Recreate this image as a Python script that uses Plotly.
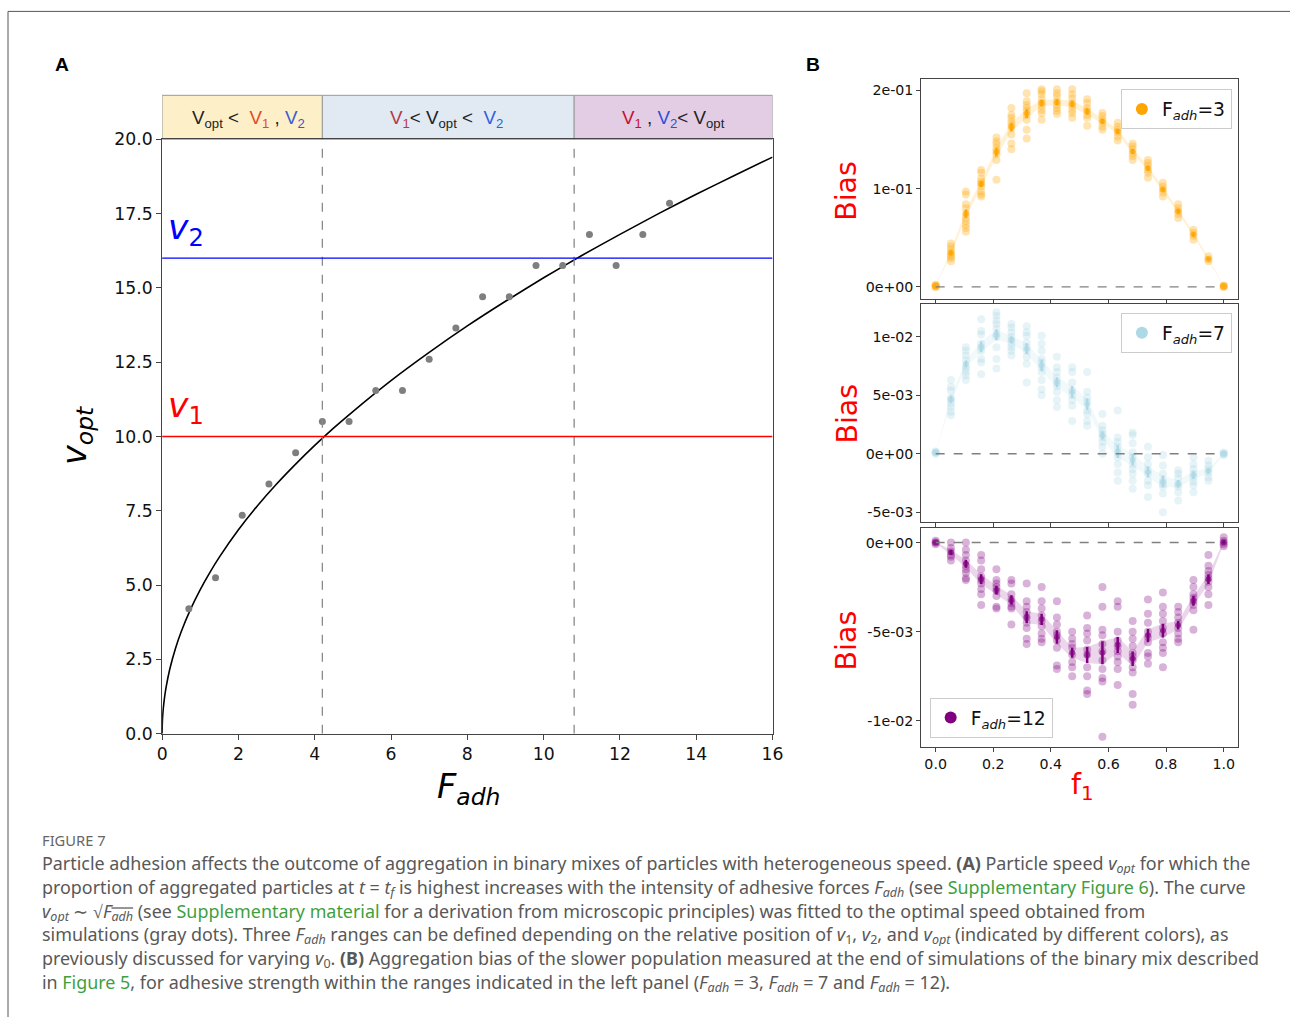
import numpy as np
import plotly.graph_objects as go

# The photographed page is slightly scaled and offset relative to the figure;
# positions below are given in reference-picture pixels and mapped through
# the measured transform (scale SX, SY and offsets BX, BY).
SX, SY = 0.987, 0.9815
BX, BY = 5.0, 8.6
W, H = 1302, 1028
FS = 1.015  # font compensation for the page scale


def px(x):
    return ((x - BX) / SX) / W


def py(y):
    return 1 - ((y - BY) / SY) / H


def fs(s):
    return s * FS


# ---------------- Panel A data ----------------
F_adh_sim = [0.7, 1.4, 2.1, 2.8, 3.5, 4.2, 4.9, 5.6, 6.3, 7.0, 7.7, 8.4, 9.1, 9.8,
             10.5, 11.2, 11.9, 12.6, 13.3]
v_opt_sim = [4.2, 5.25, 7.35, 8.4, 9.45, 10.5, 10.5, 11.55, 11.55, 12.6, 13.65, 14.7,
             14.7, 15.75, 15.75, 16.8, 15.75, 16.8, 17.85]
F_fit = [0, 0.005, 0.02, 0.05, 0.1, 0.2, 0.35, 0.5, 0.75, 1, 1.25, 1.5, 2, 2.5, 3, 3.5,
         4, 4.5, 5, 6, 7, 8, 9, 10, 11, 12, 13, 14, 15, 16]
v_fit = [0, 0.34, 0.69, 1.08, 1.53, 2.17, 2.87, 3.43, 4.20, 4.85, 5.42, 5.94, 6.86,
         7.67, 8.40, 9.07, 9.70, 10.29, 10.84, 11.88, 12.83, 13.72, 14.55, 15.34,
         16.09, 16.80, 17.49, 18.15, 18.78, 19.40]
v1_level = 10
v2_level = 16
F_bounds = [0, 4.2, 10.8, 16]
x_ticks_A = [0, 2, 4, 6, 8, 10, 12, 14, 16]
y_ticks_A = [0, 2.5, 5, 7.5, 10, 12.5, 15, 17.5, 20]

# ---------------- Panel B data ----------------
f1 = [0.0, 0.053, 0.105, 0.158, 0.211, 0.263, 0.316, 0.368, 0.421, 0.474, 0.526,
      0.579, 0.632, 0.684, 0.737, 0.789, 0.842, 0.895, 0.947, 1.0]

bias_F3 = [
    [0.0, 0.001, 0.002, 0.0, 0.001],
    [0.044, 0.041, 0.038, 0.035, 0.033, 0.031, 0.029, 0.026],
    [0.097, 0.094, 0.084, 0.080, 0.074, 0.070, 0.067, 0.063, 0.060, 0.056],
    [0.119, 0.116, 0.110, 0.107, 0.105, 0.102, 0.097, 0.094, 0.092],
    [0.152, 0.148, 0.145, 0.141, 0.138, 0.135, 0.129, 0.109],
    [0.182, 0.175, 0.172, 0.168, 0.165, 0.162, 0.155, 0.146, 0.140],
    [0.197, 0.189, 0.185, 0.182, 0.179, 0.175, 0.170, 0.160, 0.151],
    [0.201, 0.199, 0.196, 0.191, 0.187, 0.184, 0.180, 0.177, 0.170],
    [0.201, 0.197, 0.194, 0.189, 0.185, 0.182, 0.179, 0.176],
    [0.201, 0.196, 0.192, 0.187, 0.184, 0.180, 0.177, 0.172],
    [0.191, 0.187, 0.182, 0.179, 0.175, 0.172, 0.164],
    [0.177, 0.174, 0.170, 0.167, 0.163, 0.160],
    [0.167, 0.163, 0.160, 0.157, 0.153, 0.149],
    [0.146, 0.143, 0.140, 0.136, 0.133, 0.129],
    [0.129, 0.126, 0.123, 0.119, 0.116, 0.111],
    [0.106, 0.102, 0.099, 0.096, 0.092],
    [0.084, 0.080, 0.077, 0.074, 0.070],
    [0.058, 0.055, 0.052, 0.048],
    [0.031, 0.028, 0.026],
    [0.0, 0.001, 0.0, 0.001],
]

bias_F7 = [
    [0.0001, 0.0, 0.0002, 0.0001],
    [0.0063, 0.0057, 0.0054, 0.0048, 0.0046, 0.0043, 0.0040, 0.0036, 0.0033],
    [0.0091, 0.0088, 0.0084, 0.0080, 0.0075, 0.0073, 0.0070, 0.0067, 0.0063],
    [0.0115, 0.0105, 0.0102, 0.0094, 0.0091, 0.0088, 0.0081, 0.0078, 0.0068],
    [0.0121, 0.0118, 0.0114, 0.0111, 0.0107, 0.0102, 0.0100, 0.0091, 0.0081, 0.0073],
    [0.0111, 0.0108, 0.0104, 0.0100, 0.0097, 0.0094, 0.0091, 0.0088, 0.0084],
    [0.0109, 0.0104, 0.0101, 0.0095, 0.0091, 0.0088, 0.0083, 0.0077, 0.0061],
    [0.0101, 0.0094, 0.0088, 0.0081, 0.0078, 0.0074, 0.0070, 0.0063, 0.0055, 0.0050],
    [0.0083, 0.0074, 0.0070, 0.0065, 0.0061, 0.0058, 0.0053, 0.0046, 0.0040],
    [0.0074, 0.0070, 0.0061, 0.0054, 0.0050, 0.0046, 0.0041, 0.0028],
    [0.0070, 0.0053, 0.0048, 0.0044, 0.0037, 0.0034, 0.0028, 0.0024],
    [0.0034, 0.0024, 0.0020, 0.0017, 0.0014, 0.0010, 0.0006, 0.0000],
    [0.0037, 0.0014, 0.0010, 0.0006, 0.0001, -0.0003, -0.0009, -0.0016, -0.0023],
    [0.0018, 0.0016, 0.0009, 0.0001, -0.0003, -0.0009, -0.0013, -0.0017, -0.0023, -0.0030],
    [0.0006, -0.0003, -0.0009, -0.0014, -0.0017, -0.0023, -0.0027, -0.0037],
    [-0.0001, -0.0010, -0.0017, -0.0023, -0.0026, -0.0028, -0.0034, -0.0050],
    [-0.0014, -0.0017, -0.0021, -0.0026, -0.0028, -0.0033, -0.0040],
    [-0.0003, -0.0009, -0.0013, -0.0017, -0.0020, -0.0024, -0.0027, -0.0033],
    [-0.0006, -0.0010, -0.0013, -0.0016, -0.0020, -0.0023],
    [0.0001, 0.0, -0.0001, 0.0],
]

bias_F12 = [
    [0.0, 0.0001, -0.0001, 0.0],
    [0.0, -0.0003, -0.0005, -0.0007, -0.0008, -0.0010],
    [0.0, -0.0004, -0.0007, -0.0010, -0.0013, -0.0015, -0.0017, -0.0020, -0.0021],
    [-0.0007, -0.0010, -0.0015, -0.0019, -0.0021, -0.0023, -0.0026, -0.0029, -0.0035],
    [-0.0015, -0.0021, -0.0023, -0.0025, -0.0027, -0.0030, -0.0036, -0.0037],
    [-0.0021, -0.0023, -0.0029, -0.0032, -0.0034, -0.0036, -0.0037, -0.0046],
    [-0.0023, -0.0033, -0.0036, -0.0039, -0.0042, -0.0045, -0.0048, -0.0054, -0.0057],
    [-0.0025, -0.0033, -0.0037, -0.0041, -0.0044, -0.0047, -0.0051, -0.0054, -0.0056],
    [-0.0033, -0.0042, -0.0046, -0.0050, -0.0052, -0.0055, -0.0059, -0.0069, -0.0071],
    [-0.0050, -0.0054, -0.0057, -0.0059, -0.0063, -0.0067, -0.0070, -0.0075],
    [-0.0041, -0.0048, -0.0051, -0.0055, -0.0060, -0.0063, -0.0070, -0.0075, -0.0083, -0.0085],
    [-0.0025, -0.0036, -0.0049, -0.0052, -0.0057, -0.0061, -0.0066, -0.0071, -0.0076, -0.0078, -0.0109],
    [-0.0033, -0.0036, -0.0050, -0.0055, -0.0058, -0.0061, -0.0064, -0.0067, -0.0071, -0.0080],
    [-0.0044, -0.0050, -0.0054, -0.0058, -0.0062, -0.0064, -0.0066, -0.0070, -0.0073, -0.0085, -0.0091],
    [-0.0032, -0.0040, -0.0045, -0.0050, -0.0053, -0.0056, -0.0062, -0.0064, -0.0068],
    [-0.0028, -0.0036, -0.0040, -0.0044, -0.0048, -0.0051, -0.0056, -0.0059, -0.0062, -0.0070],
    [-0.0036, -0.0039, -0.0042, -0.0045, -0.0048, -0.0051, -0.0054, -0.0056],
    [-0.0021, -0.0025, -0.0029, -0.0031, -0.0033, -0.0035, -0.0038, -0.0049],
    [-0.0007, -0.0013, -0.0016, -0.0018, -0.0020, -0.0022, -0.0025, -0.0029, -0.0035],
    [0.0003, 0.0001, 0.0, -0.0001, -0.0002],
]

x_ticks_B = [0.0, 0.2, 0.4, 0.6, 0.8, 1.0]
y_ticks_B1 = [0.0, 0.1, 0.2]
y_text_B1 = ["0e+00", "1e-01", "2e-01"]
y_ticks_B2 = [-0.005, 0.0, 0.005, 0.01]
y_text_B2 = ["-5e-03", "0e+00", "5e-03", "1e-02"]
y_ticks_B3 = [-0.01, -0.005, 0.0]
y_text_B3 = ["-1e-02", "-5e-03", "0e+00"]

DJ = "DejaVu Sans"
fig = go.Figure()

# ---------------- Panel A traces ----------------
fig.add_trace(go.Scatter(x=F_fit, y=v_fit, mode="lines", xaxis="x", yaxis="y",
                         line=dict(color="black", width=1.6, shape="spline", smoothing=0.5),
                         showlegend=False, hoverinfo="skip"))
fig.add_trace(go.Scatter(x=F_adh_sim, y=v_opt_sim, mode="markers", xaxis="x", yaxis="y",
                         marker=dict(color="#7f7f7f", size=7), showlegend=False))

shapes = []
annotations = []


def ann(**kw):
    d = dict(showarrow=False, xanchor="center", yanchor="middle")
    d.update(kw)
    annotations.append(d)


# banner boxes
band_fill = ["#fdf0c9", "#e1e9f3", "#e3cde4"]
for i in range(3):
    shapes.append(dict(type="rect", xref="x", yref="paper", x0=F_bounds[i], x1=F_bounds[i + 1],
                       y0=py(138), y1=py(94), fillcolor=band_fill[i],
                       line=dict(color="#9a9a9a", width=1), layer="below"))
# vertical dashed lines
for fb in F_bounds[1:3]:
    shapes.append(dict(type="line", xref="x", yref="y", x0=fb, x1=fb, y0=0, y1=20,
                       line=dict(color="#8a8a8a", width=1.3, dash="dash")))
# horizontal v1 / v2 lines
shapes.append(dict(type="line", xref="x", yref="y", x0=0, x1=16, y0=v2_level, y1=v2_level,
                   line=dict(color="#0000ff", width=1.3)))
shapes.append(dict(type="line", xref="x", yref="y", x0=0, x1=16, y0=v1_level, y1=v1_level,
                   line=dict(color="#ff0000", width=1.3)))

banner_font = dict(family="Liberation Sans", size=fs(18.5), color="#222")
banner_texts = [
    "V<sub>opt</sub> <  <span style='color:#e4482a'>V<sub>1</sub></span> , <span style='color:#3b5bd0'>V<sub>2</sub></span>",
    "<span style='color:#b43a44'>V<sub>1</sub></span>< V<sub>opt</sub> <  <span style='color:#2f5fe0'>V<sub>2</sub></span>",
    "<span style='color:#c8102e'>V<sub>1</sub></span> , <span style='color:#2f4fd8'>V<sub>2</sub></span>< V<sub>opt</sub>",
]
banner_shift = [6, -2, 0]
for i in range(3):
    ann(xref="x", yref="paper", x=(F_bounds[i] + F_bounds[i + 1]) / 2, y=py(118),
        xshift=banner_shift[i], text=banner_texts[i], font=banner_font)

ann(xref="x", yref="y", x=0.1, y=v2_level, yshift=4, text="<i>v</i><sub>2</sub>",
    xanchor="left", yanchor="bottom", font=dict(family=DJ, size=fs(34), color="#0000ff"))
ann(xref="x", yref="y", x=0.1, y=v1_level, yshift=4, text="<i>v</i><sub>1</sub>",
    xanchor="left", yanchor="bottom", font=dict(family=DJ, size=fs(34), color="#ff0000"))

ann(xref="paper", yref="paper", x=px(468), y=py(788), text="<i>F<sub>adh</sub></i>",
    font=dict(family=DJ, size=fs(33), color="black"))
ann(xref="paper", yref="paper", x=px(77), y=py(435), text="<i>v<sub>opt</sub></i>",
    textangle=-90, font=dict(family=DJ, size=fs(33), color="black"))
ann(xref="paper", yref="paper", x=px(62), y=py(63), text="<b>A</b>",
    font=dict(family="Liberation Sans", size=fs(19), color="black"))
ann(xref="paper", yref="paper", x=px(812), y=py(63), text="<b>B</b>",
    font=dict(family="Liberation Sans", size=fs(19), color="black"))

# ---------------- Panel B traces ----------------
panels = [
    (bias_F3, "orange", (255, 165, 0), "F<sub><i>adh</i></sub>=3", "legend", "2"),
    (bias_F7, "lightblue", (173, 216, 230), "F<sub><i>adh</i></sub>=7", "legend2", "3"),
    (bias_F12, "purple", (128, 0, 128), "F<sub><i>adh</i></sub>=12", "legend3", "4"),
]
for data, col, rgb, name, leg, ax in panels:
    xs, ys = [], []
    for i, vals in enumerate(data):
        xs += [f1[i]] * len(vals)
        ys += vals
    means = [float(np.mean(v)) for v in data]
    sems = [float(np.std(v) / np.sqrt(len(v))) for v in data]
    lo = [m - s for m, s in zip(means, sems)]
    hi = [m + s for m, s in zip(means, sems)]
    xa, ya = "x" + ax, "y" + ax
    fig.add_trace(go.Scatter(x=f1, y=lo, mode="lines", line=dict(width=0), xaxis=xa, yaxis=ya,
                             showlegend=False, hoverinfo="skip"))
    fig.add_trace(go.Scatter(x=f1, y=hi, mode="lines", line=dict(width=0), fill="tonexty",
                             fillcolor="rgba(%d,%d,%d,0.16)" % rgb, xaxis=xa, yaxis=ya,
                             showlegend=False, hoverinfo="skip"))
    fig.add_trace(go.Scatter(x=xs, y=ys, mode="markers", xaxis=xa, yaxis=ya,
                             marker=dict(color=col, size=8, opacity=0.3, line=dict(width=0)),
                             showlegend=False))
    fig.add_trace(go.Scatter(x=f1, y=means, mode="markers", xaxis=xa, yaxis=ya,
                             marker=dict(color=col, size=6, opacity=0.6),
                             error_y=dict(type="data", array=sems, color=col, thickness=2.5, width=0),
                             showlegend=False))
    fig.add_trace(go.Scatter(x=[None], y=[None], mode="markers", xaxis=xa, yaxis=ya,
                             marker=dict(color=col, size=7), name=name, legend=leg,
                             showlegend=True))
    shapes.append(dict(type="line", xref=xa, yref=ya, x0=0, x1=1, y0=0, y1=0,
                       line=dict(color="#808080", width=1.4, dash="dash")))

for yc in (190, 413, 640):
    ann(xref="paper", yref="paper", x=px(846), y=py(yc), text="Bias", textangle=-90,
        font=dict(family=DJ, size=fs(28), color="#ff0000"))
ann(xref="paper", yref="paper", x=px(1082), y=py(786), text="f<sub>1</sub>",
    font=dict(family=DJ, size=fs(28), color="#ff0000"))

# ---------------- Caption ----------------
GREEN = "#3f9f3f"
cap_font = dict(family="Noto Sans", size=17.9, color="#585858")
caption_lines = [
    "Particle adhesion affects the outcome of aggregation in binary mixes of particles with heterogeneous speed. <b>(A)</b> Particle speed <i>v<sub>opt</sub></i> for which the",
    "proportion of aggregated particles at <i>t</i> = <i>t<sub>f</sub></i> is highest increases with the intensity of adhesive forces <i>F<sub>adh</sub></i> (see <span style='color:%s'>Supplementary Figure 6</span>). The curve" % GREEN,
    "<i>v<sub>opt</sub></i> ∼ √<span style='text-decoration:overline'><i>F<sub>adh</sub></i></span> (see <span style='color:%s'>Supplementary material</span> for a derivation from microscopic principles) was fitted to the optimal speed obtained from" % GREEN,
    "simulations (gray dots). Three <i>F<sub>adh</sub></i> ranges can be defined depending on the relative position of <i>v</i><sub>1</sub>, <i>v</i><sub>2</sub>, and <i>v<sub>opt</sub></i> (indicated by different colors), as",
    "previously discussed for varying <i>v</i><sub>0</sub>. <b>(B)</b> Aggregation bias of the slower population measured at the end of simulations of the binary mix described",
    "in <span style='color:%s'>Figure 5</span>, for adhesive strength within the ranges indicated in the left panel (<i>F<sub>adh</sub></i> = 3, <i>F<sub>adh</sub></i> = 7 and <i>F<sub>adh</sub></i> = 12)." % GREEN,
]
ann(xref="paper", yref="paper", x=px(40), y=py(839), text="FIGURE 7", xanchor="left",
    font=dict(family="Noto Sans", size=fs(14.5), color="#666666"))
for i, line in enumerate(caption_lines):
    ann(xref="paper", yref="paper", x=px(40), y=py(863 + 24 * i), text=line, xanchor="left",
        height=22, valign="middle", font=cap_font)

# outer frame
shapes.append(dict(type="line", xref="paper", yref="paper", x0=px(8), x1=1, y0=py(10), y1=py(10),
                   line=dict(color="#555", width=1)))
shapes.append(dict(type="line", xref="paper", yref="paper", x0=px(8), x1=px(8), y0=py(10), y1=0,
                   line=dict(color="#555", width=1)))

# ---------------- Axes ----------------
ax_common = dict(showgrid=False, zeroline=False, showline=True, linecolor="#444", linewidth=1,
                 mirror=True, ticks="outside", ticklen=5, tickcolor="#444",
                 tickfont=dict(family=DJ, size=fs(17), color="#111"))
B_common = dict(ax_common)
B_common["tickfont"] = dict(family=DJ, size=fs(14), color="#111")
B_common["ticklen"] = 4

xdomB = [px(920.6), px(1237.2)]
layout = dict(
    width=W, height=H, margin=dict(l=0, r=0, t=0, b=0),
    paper_bgcolor="white", plot_bgcolor="white",
    xaxis=dict(ax_common, domain=[px(162), px(772)], range=[0, 16], tickvals=x_ticks_A,
               anchor="y"),
    yaxis=dict(ax_common, domain=[py(733), py(138)], range=[0, 20], tickvals=y_ticks_A,
               tickformat=".1f", anchor="x"),
    xaxis2=dict(B_common, domain=xdomB, range=[-0.05, 1.05], tickvals=x_ticks_B,
                showticklabels=False, anchor="y2"),
    yaxis2=dict(B_common, domain=[py(297.5), py(78)], range=[-0.0120, 0.2112],
                tickvals=y_ticks_B1, ticktext=y_text_B1, anchor="x2"),
    xaxis3=dict(B_common, domain=xdomB, range=[-0.05, 1.05], tickvals=x_ticks_B,
                showticklabels=False, anchor="y3"),
    yaxis3=dict(B_common, domain=[py(521.5), py(302.5)], range=[-0.00587, 0.01284],
                tickvals=y_ticks_B2, ticktext=y_text_B2, anchor="x3"),
    xaxis4=dict(B_common, domain=xdomB, range=[-0.05, 1.05], tickvals=x_ticks_B,
                tickformat=".1f", anchor="y4"),
    yaxis4=dict(B_common, domain=[py(746.5), py(527.5)], range=[-0.011486, 0.000796],
                tickvals=y_ticks_B3, ticktext=y_text_B3, anchor="x4"),
    shapes=shapes,
    annotations=annotations,
    showlegend=True,
)
leg_common = dict(bgcolor="rgba(255,255,255,0.85)", bordercolor="#cccccc", borderwidth=1,
                  font=dict(family=DJ, size=fs(18.5), color="#111"), itemsizing="constant",
                  tracegroupgap=0)
layout["legend"] = dict(leg_common, x=px(1231), y=py(88), xanchor="right", yanchor="top")
layout["legend2"] = dict(leg_common, x=px(1231), y=py(312), xanchor="right", yanchor="top")
layout["legend3"] = dict(leg_common, x=px(929), y=py(737), xanchor="left", yanchor="bottom")
fig.update_layout(**layout)

fig.write_html("out.html")
